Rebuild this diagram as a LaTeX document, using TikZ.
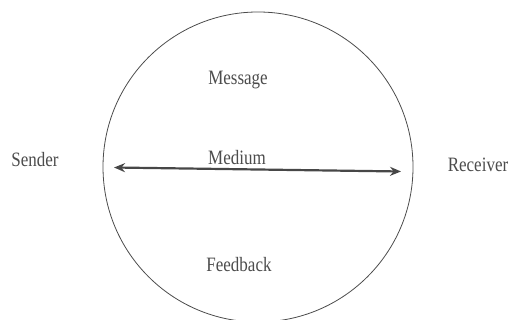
\documentclass[tikz,border=0pt]{standalone}
\usepackage{fontspec}
\setmainfont{Liberation Serif}
\usetikzlibrary{arrows.meta, positioning}

\tikzset{
  lbl/.style={font=\fontsize{17}{20}\selectfont, text=black!70, inner sep=1pt, yscale=1.2, transform shape},
  ring/.style={draw=black!70, circle, line width=0.8pt, minimum size=310pt},
  flow/.style={{Stealth[length=11pt,width=9pt]}-{Stealth[length=11pt,width=9pt]}, line width=2.2pt, draw=black!72}
}

\begin{document}
\begin{tikzpicture}[x=1pt, y=1pt]
\useasboundingbox (0,0) rectangle (510,320);
\clip (0,0) rectangle (510,320);

\node[ring] (ring) at (258,153) {};

\node[lbl] (message) at (238,240) {Message};
\node[lbl] (medium) at (237,162) {Medium};
\node[lbl] (feedback) at (239,55) {Feedback};
\node[lbl] (sender) at (35,160) {Sender};
\node[lbl] (receiver) at (478,155) {Receiver};

% medium line between the two sides
\coordinate (left end) at (114,152.5);
\coordinate (right end) at (401,148.5);
\draw[flow] (left end) -- (right end);
\end{tikzpicture}
\end{document}
